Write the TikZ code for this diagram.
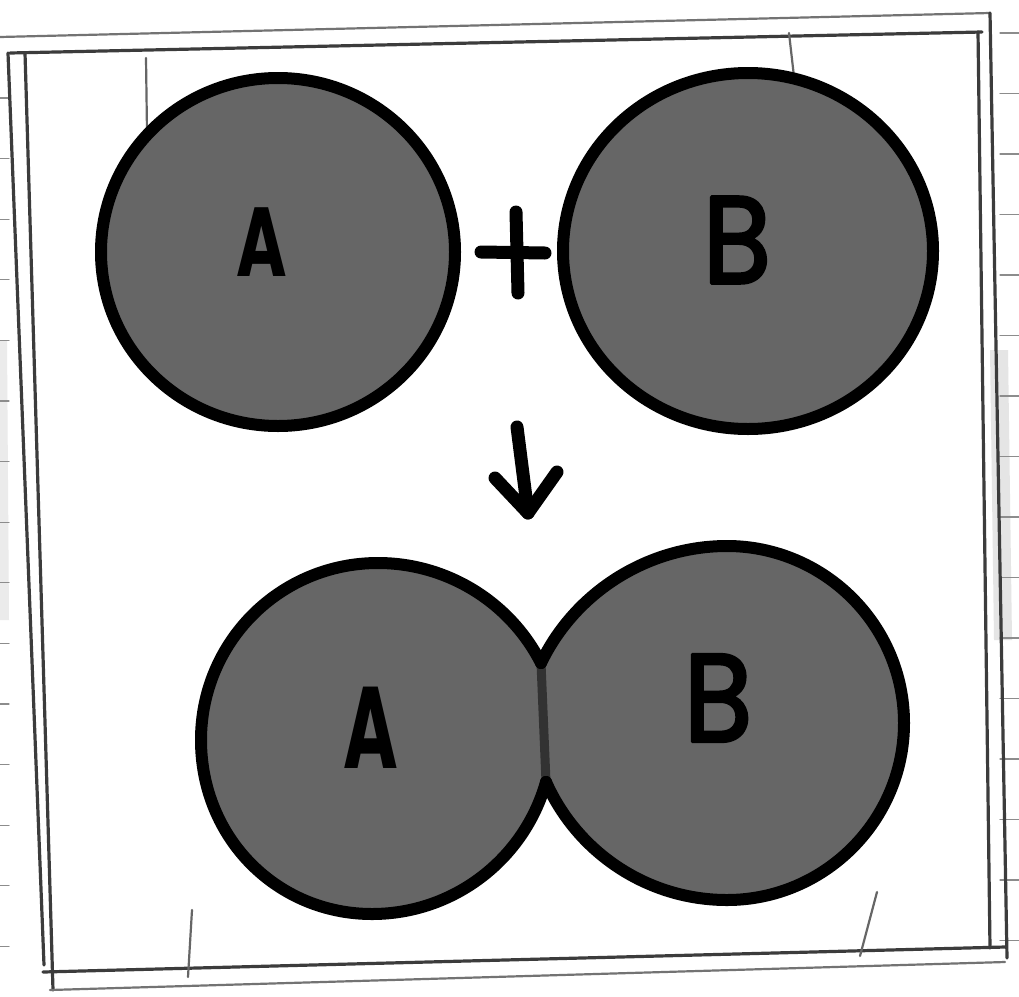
\documentclass[tikz,border=0pt]{standalone}
\usepackage{fontspec}
\newfontfamily\hand{Poppins}
\newfontfamily\handB{Poppins}[FakeBold=2.5]
\definecolor{blobgray}{RGB}{102,102,102}
\definecolor{pencilgray}{RGB}{60,60,60}
\definecolor{seamgray}{RGB}{50,50,50}
\begin{document}
\begin{tikzpicture}[x=1pt,y=-1pt,line join=round,line cap=round]
\tikzset{
  blob/.style={fill=blobgray,draw=black,line width=12pt},
  blobfill/.style={fill=blobgray},
  rim/.style={draw=black,line width=12pt},
  seam/.style={draw=seamgray,line width=9pt,line cap=butt},
  pencil/.style={draw=pencilgray,line width=3.2pt},
  pencillight/.style={draw=black!55,line width=2.2pt},
  tickline/.style={draw=black!60,line width=2.2pt},
  ruled/.style={draw=black!45,line width=1.3pt},
  stroke/.style={draw=black,line width=13pt},
  letterbold/.style={inner sep=0pt,text=black,font=\hand\bfseries},
  letterreg/.style={inner sep=0pt,text=black,font=\handB}
}
\useasboundingbox (0,0) rectangle (1019,996);
\fill[white] (0,0) rectangle (1019,996);

% margin shading and ruled notebook lines
\fill[black!10] (990,350) -- (1008,350) -- (1012,640) -- (994,640) -- cycle;
\fill[black!8] (0,340) -- (7,340) -- (9,620) -- (0,620) -- cycle;
\foreach \k in {0,...,14} \draw[ruled] (0,{98+60.6*\k}) -- (9,{98+60.6*\k});
\foreach \k in {0,...,15} \draw[ruled] (1000,{33+60.5*\k}) -- (1019,{33+60.5*\k});

% double frame
\draw[pencillight] (0,37) -- (990,13);
\draw[pencil] (10,53) -- (982,32);
\draw[pencil] (8,53) -- (44,965);
\draw[pencil] (25,53) -- (53,990);
\draw[pencil] (43,972) -- (1005,947);
\draw[pencillight] (50,990) -- (1005,962);
\draw[pencil] (978,32) -- (990,948);
\draw[pencil] (990,13) -- (1007,958);

% small pencil ticks
\draw[tickline] (146,58) -- (147,132);
\draw[tickline] (789,33) -- (797,103);
\draw[tickline] (192,910) -- (188,977);
\draw[tickline] (877,892) -- (860,956);

% top pair
\path[blob] (278,252) ellipse [x radius=177,y radius=174];
\path[blob] (748,251) ellipse [x radius=185,y radius=178];
\node[letterbold] (a1) at (262,242) {\fontsize{98pt}{98pt}\selectfont\scalebox{0.7}[1]{A}};
\node[letterreg] (b1) at (737,240) {\fontsize{124pt}{124pt}\selectfont\scalebox{0.9}[1]{B}};

% plus
\coordinate (plL) at (481,252);
\coordinate (plR) at (545,253);
\coordinate (plT) at (516,212);
\coordinate (plB) at (518,293);
\draw[stroke] (plL) -- (plR);
\draw[stroke] (plT) -- (plB);

% arrow
\coordinate (arT) at (517,427);
\coordinate (arH) at (528,513);
\coordinate (arL) at (495,478);
\coordinate (arR) at (557,472);
\draw[stroke] (arT) -- (arH);
\draw[stroke] (arL) -- (arH) -- (arR);

% bottom fused pair
\coordinate (p1) at (541,663);
\coordinate (p2) at (546,782);
\def\outlineA{(p1) .. controls (510,602) and (447,563) .. (378,563)
  .. controls (280,563) and (201,642) .. (201,740)
  .. controls (201,838) and (277,914) .. (372,914)
  .. controls (453,914) and (524,860) .. (p2)}
\def\outlineB{(p1) .. controls (575,592) and (648,546) .. (727,546)
  .. controls (824,546) and (904,625) .. (904,723)
  .. controls (904,821) and (824,900) .. (727,900)
  .. controls (649,900) and (578,854) .. (p2)}
\fill[blobfill] \outlineA -- cycle;
\fill[blobfill] \outlineB -- cycle;
\draw[seam] (p1) -- (p2);
\draw[rim] \outlineA;
\draw[rim] \outlineB;
\node[letterbold] (a2) at (371,728) {\fontsize{116pt}{116pt}\selectfont\scalebox{0.64}[1]{A}};
\node[letterreg] (b2) at (718,698) {\fontsize{125pt}{125pt}\selectfont\scalebox{0.9}[1]{B}};
\end{tikzpicture}
\end{document}
